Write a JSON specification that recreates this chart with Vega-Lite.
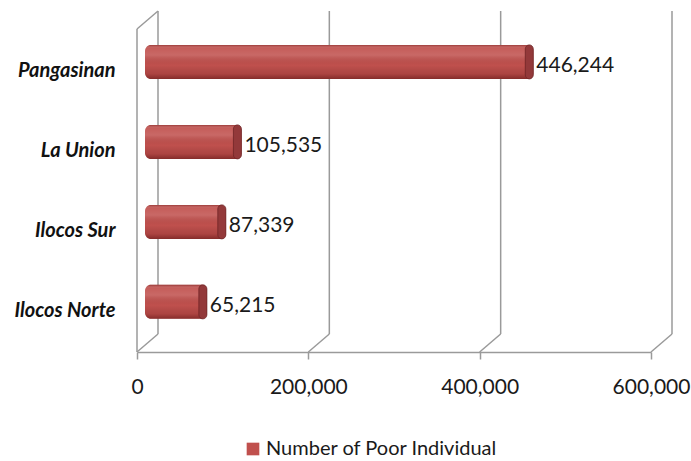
{
  "$schema": "https://vega.github.io/schema/vega-lite/v6.json",
  "autosize": {"type": "none"},
  "width": 514,
  "height": 341,
  "padding": {"left": 137, "top": 11, "right": 40, "bottom": 109},
  "background": "white",
  "config": {
    "view": {"stroke": null},
    "font": "Lato, sans-serif",
    "numberFormat": ","
  },
  "datasets": {
    "poor": [
      {"province": "Pangasinan", "value": 446244},
      {"province": "La Union", "value": 105535},
      {"province": "Ilocos Sur", "value": 87339},
      {"province": "Ilocos Norte", "value": 65215}
    ],
    "ticks": [
      {"v": 0}, {"v": 200000}, {"v": 400000}, {"v": 600000}
    ]
  },
  "resolve": {"scale": {"y": "independent"}},
  "layer": [
    {
      "data": {"name": "ticks"},
      "mark": {"type": "rule", "color": "#9a9a9a", "strokeWidth": 1.5, "xOffset": 21, "x2Offset": 21, "yOffset": -18},
      "encoding": {
        "x": {
          "field": "v", "type": "quantitative",
          "scale": {"domain": [0, 600000]},
          "axis": {
            "values": [0, 200000, 400000, 600000],
            "labelExpr": "format(datum.value, ',')",
            "title": null,
            "grid": false,
            "domainColor": "#9a9a9a",
            "domainWidth": 1.5,
            "tickColor": "#9a9a9a",
            "tickWidth": 1.5,
            "tickSize": 7,
            "labelFontSize": 21,
            "labelColor": "#1a1a1a",
            "labelPadding": 17,
            "labelFlush": false
          }
        },
        "y": {"datum": 0, "type": "quantitative", "scale": {"domain": [0, 1]}, "axis": null},
        "y2": {"datum": 1}
      }
    },
    {
      "data": {"name": "ticks"},
      "mark": {"type": "rule", "color": "#9a9a9a", "strokeWidth": 1.5, "x2Offset": 21, "y2Offset": -18},
      "encoding": {
        "x": {"field": "v", "type": "quantitative"},
        "x2": {"field": "v"},
        "y": {"datum": 0, "type": "quantitative", "scale": {"domain": [0, 1]}, "axis": null},
        "y2": {"datum": 0}
      }
    },
    {
      "data": {"values": [{"v": 0}]},
      "mark": {"type": "rule", "color": "#9a9a9a", "strokeWidth": 1.5, "y2Offset": 18},
      "encoding": {
        "x": {"field": "v", "type": "quantitative"},
        "y": {"datum": 0, "type": "quantitative", "scale": {"domain": [0, 1]}, "axis": null},
        "y2": {"datum": 1}
      }
    },
    {
      "data": {"values": [{"v": 0}]},
      "mark": {"type": "rule", "color": "#9a9a9a", "strokeWidth": 1.5, "yOffset": 18, "x2Offset": 21},
      "encoding": {
        "x": {"field": "v", "type": "quantitative"},
        "x2": {"field": "v"},
        "y": {"datum": 1, "type": "quantitative", "scale": {"domain": [0, 1]}, "axis": null},
        "y2": {"datum": 1}
      }
    },
    {
      "data": {"name": "poor"},
      "layer": [
        {
          "mark": {"type": "bar", "cornerRadius": 6, "xOffset": 14, "x2Offset": 8, "yOffset": -9},
          "encoding": {
            "x": {"field": "value", "type": "quantitative", "stack": null},
            "x2": {"datum": 0},
            "y": {
              "field": "province", "type": "nominal",
              "sort": ["Pangasinan", "La Union", "Ilocos Sur", "Ilocos Norte"],
              "scale": {"paddingInner": 0.575, "paddingOuter": 0.419, "align": 0.64},
              "axis": {
                "title": null,
                "domain": false,
                "ticks": false,
                "labelFontSize": 20,
                "labelFontWeight": "bold",
                "labelFontStyle": "italic",
                "labelColor": "#111111",
                "labelPadding": 22,
                "labelLimit": 200
              }
            },
            "color": {
              "datum": "Number of Poor Individual",
              "scale": {"range": ["#c0504d"]},
              "legend": {
                "title": null,
                "orient": "none",
                "legendX": 106,
                "legendY": 428,
                "padding": 0,
                "symbolType": "square",
                "symbolSize": 160,
                "symbolStrokeWidth": 0,
                "labelFontSize": 20,
                "labelColor": "#1a1a1a",
                "labelOffset": 3,
                "labelLimit": 400
              }
            }
          }
        },
        {
          "mark": {
            "type": "bar", "cornerRadius": 6, "xOffset": 14, "x2Offset": 8, "yOffset": -9,
            "fill": {
              "gradient": "linear", "x1": 0, "y1": 0, "x2": 0, "y2": 1,
              "stops": [
                {"offset": 0, "color": "rgba(90,10,10,0.4)"},
                {"offset": 0.1, "color": "rgba(255,255,255,0.08)"},
                {"offset": 0.3, "color": "rgba(255,255,255,0.14)"},
                {"offset": 0.6, "color": "rgba(0,0,0,0.0)"},
                {"offset": 0.85, "color": "rgba(60,0,0,0.15)"},
                {"offset": 1, "color": "rgba(60,0,0,0.45)"}
              ]
            }
          },
          "encoding": {
            "x": {"field": "value", "type": "quantitative", "stack": null},
            "x2": {"datum": 0},
            "y": {"field": "province", "type": "nominal", "sort": ["Pangasinan", "La Union", "Ilocos Sur", "Ilocos Norte"]}
          }
        },
        {
          "mark": {"type": "bar", "cornerRadius": 4, "xOffset": 6, "x2Offset": 14, "yOffset": -9, "fill": "#93393a", "stroke": "#6e2526", "strokeWidth": 0.8},
          "encoding": {
            "x": {"field": "value", "type": "quantitative"},
            "x2": {"field": "value"},
            "y": {"field": "province", "type": "nominal", "sort": ["Pangasinan", "La Union", "Ilocos Sur", "Ilocos Norte"]}
          }
        },
        {
          "mark": {"type": "text", "align": "left", "baseline": "middle", "xOffset": 17, "yOffset": -5, "fontSize": 21, "color": "#1a1a1a"},
          "encoding": {
            "x": {"field": "value", "type": "quantitative"},
            "y": {"field": "province", "type": "nominal", "sort": ["Pangasinan", "La Union", "Ilocos Sur", "Ilocos Norte"]},
            "text": {"field": "value", "type": "quantitative", "format": ","}
          }
        }
      ]
    }
  ]
}
